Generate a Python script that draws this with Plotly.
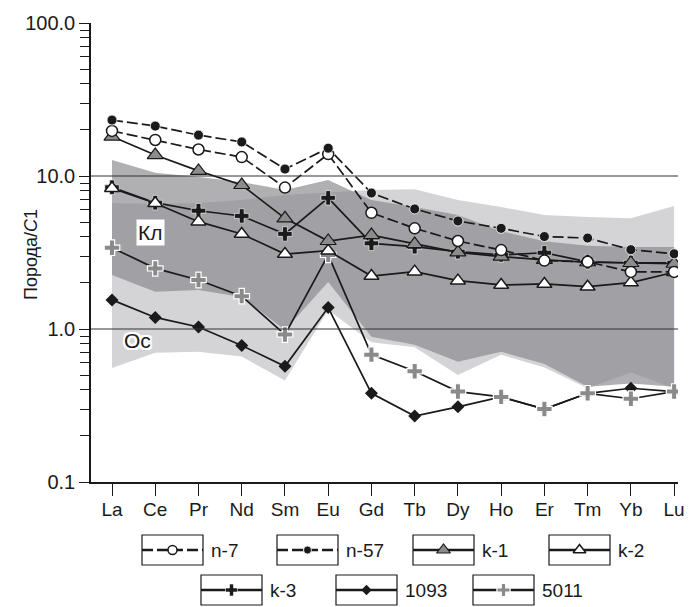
import plotly.graph_objects as go

# ---------------- data ----------------
elements = ["La", "Ce", "Pr", "Nd", "Sm", "Eu", "Gd", "Tb", "Dy", "Ho", "Er", "Tm", "Yb", "Lu"]

n7 = [19.7, 17.2, 14.9, 13.3, 8.4, 13.9, 5.75, 4.55, 3.76, 3.28, 2.8, 2.75, 2.36, 2.36]
n57 = [23.2, 21.2, 18.5, 16.7, 11.1, 15.2, 7.74, 6.09, 5.08, 4.55, 4.02, 3.93, 3.3, 3.1]
k1 = [18.1, 13.7, 10.8, 8.73, 5.29, 3.76, 4.11, 3.59, 3.17, 2.97, 2.83, 2.73, 2.7, 2.67]
k2 = [8.31, 6.63, 5.03, 4.18, 3.09, 3.25, 2.22, 2.37, 2.07, 1.94, 1.97, 1.89, 2.01, 2.35]
k3 = [8.44, 6.69, 5.93, 5.48, 4.18, 7.2, 3.63, 3.45, 3.2, 3.05, 3.15, 2.75, 2.71, 2.71]
s1093 = [1.55, 1.19, 1.03, 0.78, 0.57, 1.38, 0.38, 0.27, 0.31, 0.36, 0.30, 0.38, 0.41, 0.39]
s5011 = [3.40, 2.49, 2.09, 1.64, 0.92, 3.05, 0.68, 0.53, 0.39, 0.36, 0.30, 0.38, 0.35, 0.39]

# fields (upper / lower envelopes)
oc_upper = [6.66, 6.55, 6.66, 6.97, 7.51, 7.8, 8.1, 8.2, 6.97, 6.27, 5.56, 5.4, 5.3, 6.37]
oc_lower = [0.556, 0.70, 0.71, 0.66, 0.46, 1.33, 0.82, 0.76, 0.50, 0.68, 0.56, 0.41, 0.52, 0.41]
kl_upper = [12.7, 10.5, 9.85, 9.14, 8.1, 9.42, 6.97, 6.27, 5.56, 4.35, 3.75, 3.5, 3.43, 3.43]
kl_lower = [2.25, 1.75, 1.8, 1.62, 0.985, 2.03, 0.89, 0.79, 0.61, 0.71, 0.59, 0.42, 0.44, 0.42]

ytick_vals = [0.1, 1, 10, 100]
ytick_text = ["0.1", "1.0", "10.0", "100.0"]

FONT = "Liberation Sans"
INK = "#1a1a1a"
W, H = 690, 607

fig = go.Figure()

# fields
fig.add_trace(go.Scatter(x=elements + elements[::-1], y=oc_upper + oc_lower[::-1],
                         mode="lines", line=dict(width=0), fill="toself",
                         fillcolor="#d4d4d6", hoverinfo="skip", showlegend=False))
fig.add_trace(go.Scatter(x=elements + elements[::-1], y=kl_upper + kl_lower[::-1],
                         mode="lines", line=dict(width=0), fill="toself",
                         fillcolor="rgba(133,133,138,0.65)", hoverinfo="skip", showlegend=False))

series = [
    ("1093", s1093, "solid", dict(symbol="diamond", size=10, color=INK, line=dict(color=INK, width=0))),
    ("5011", s5011, "solid", dict(symbol="cross", size=13, color="#8a8a8a", line=dict(color="white", width=1.2))),
    ("k-3", k3, "solid", dict(symbol="cross", size=12, color=INK, line=dict(color="white", width=0.6))),
    ("k-2", k2, "solid", dict(symbol="triangle-up", size=13, color="white", line=dict(color=INK, width=1.5))),
    ("k-1", k1, "solid", dict(symbol="triangle-up", size=14, color="#8c8c8c", line=dict(color=INK, width=1.2))),
    ("n-7", n7, "11px,4px", dict(symbol="circle", size=11, color="white", line=dict(color=INK, width=1.5))),
    ("n-57", n57, "11px,4px", dict(symbol="circle", size=10, color=INK, line=dict(color="white", width=0.8))),
]

for name, vals, dash, mk in series:
    fig.add_trace(go.Scatter(x=elements, y=vals, mode="lines+markers", name=name,
                             line=dict(color=INK, width=1.7, dash=dash),
                             marker=mk, showlegend=False, xaxis="x", yaxis="y"))

# ---------------- custom boxed legend ----------------
legend_order = ["n-7", "n-57", "k-1", "k-2", "k-3", "1093", "5011"]
box_left = [142, 277, 413, 549, 201, 336, 473]
row_py = [550, 550, 550, 550, 590, 590, 590]
BOX_W, BOX_H = 61, 30
sdict = {s[0]: s for s in series}
shapes = []
annotations = []
for nm, bl, py in zip(legend_order, box_left, row_py):
    _, _, dash, mk = sdict[nm]
    v = H - py
    fig.add_trace(go.Scatter(x=[bl, bl + BOX_W], y=[v, v], mode="lines",
                             line=dict(color=INK, width=2.6, dash=dash),
                             xaxis="x2", yaxis="y2", showlegend=False, hoverinfo="skip"))
    mk2 = dict(mk)
    mk2["size"] = mk["size"] - 2
    fig.add_trace(go.Scatter(x=[bl + BOX_W / 2], y=[v], mode="markers", marker=mk2,
                             xaxis="x2", yaxis="y2", showlegend=False, hoverinfo="skip"))
    shapes.append(dict(type="rect", xref="x2", yref="y2", x0=bl, x1=bl + BOX_W,
                       y0=v - BOX_H / 2, y1=v + BOX_H / 2, line=dict(color=INK, width=1.2)))
    annotations.append(dict(xref="x2", yref="y2", x=bl + BOX_W + 6, y=v, text=nm,
                            showarrow=False, xanchor="left", yanchor="middle",
                            font=dict(family=FONT, size=19, color=INK)))

# reference lines at 10 and 1
for yv in [10, 1]:
    shapes.append(dict(type="line", xref="x domain", yref="y", x0=0, x1=1, y0=yv, y1=yv,
                       line=dict(color="#333333", width=1.2), layer="above"))

# field labels
annotations.append(dict(x=0.88, y=0.634, xref="x", yref="y", text="Кл", showarrow=False,
                        font=dict(family=FONT, size=21, color=INK),
                        bgcolor="white", borderpad=1, yanchor="middle"))
annotations.append(dict(x=0.58, y=-0.078, xref="x", yref="y", text="Ос", showarrow=False,
                        font=dict(family=FONT, size=21, color=INK,
                                  shadow="2px 0 0 white, -2px 0 0 white, 0 2px 0 white, 0 -2px 0 white, 2px 2px 0 white, -2px -2px 0 white, 2px -2px 0 white, -2px 2px 0 white"),
                        yanchor="middle"))
# y axis title
annotations.append(dict(x=19 / W, y=1 - 255 / H, xref="paper", yref="paper", text="Порода/<i>С</i>1",
                        showarrow=False, textangle=-90,
                        font=dict(family=FONT, size=18, color=INK)))

fig.update_layout(
    width=W, height=H,
    margin=dict(l=0, r=0, t=0, b=0, autoexpand=False),
    paper_bgcolor="white", plot_bgcolor="rgba(0,0,0,0)",
    font=dict(family=FONT, size=19, color=INK),
    showlegend=False,
    xaxis=dict(domain=[91 / W, 678 / W], type="category", categoryorder="array",
               categoryarray=elements, range=[-0.486, 13.09], automargin=False,
               showline=True, linecolor=INK, linewidth=1.5,
               ticks="outside", ticklen=12, tickwidth=1.2, tickcolor=INK,
               ticklabelstandoff=-3,
               showgrid=False, zeroline=False, fixedrange=True,
               tickfont=dict(family=FONT, size=19, color=INK), anchor="y"),
    yaxis=dict(domain=[1 - 482 / H, 1 - 23 / H], type="log", range=[-1, 2], automargin=False,
               tickvals=ytick_vals, ticktext=ytick_text,
               showline=True, linecolor=INK, linewidth=1.5,
               ticks="outside", ticklen=10, tickwidth=1.2, tickcolor=INK,
               minor=dict(ticks="outside", ticklen=9, tickwidth=1.2, tickcolor=INK,
                          dtick="D1", showgrid=False),
               showgrid=False, zeroline=False, fixedrange=True,
               tickfont=dict(family=FONT, size=20, color=INK), anchor="x"),
    xaxis2=dict(domain=[0, 1], range=[0, W], visible=False, anchor="y2", fixedrange=True, automargin=False),
    yaxis2=dict(domain=[0, 0.2], range=[0, 0.2 * H], visible=False, anchor="x2", fixedrange=True, automargin=False),
    shapes=shapes,
    annotations=annotations,
)

fig.write_html("out.html", config={"displayModeBar": False},
               post_script="document.body.style.margin='0';document.body.style.overflow='hidden';")
